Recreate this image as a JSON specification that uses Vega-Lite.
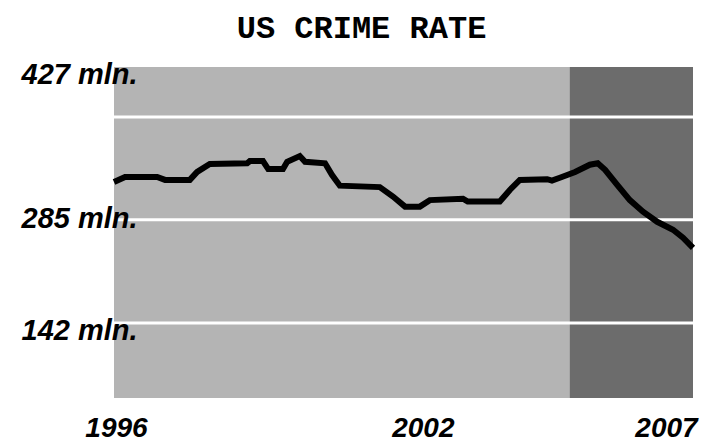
{
  "$schema": "https://vega.github.io/schema/vega-lite/v6.json",
  "width": 579,
  "height": 331,
  "autosize": {"type": "none"},
  "padding": {"left": 114, "top": 67, "right": 10, "bottom": 45},
  "background": "white",
  "title": {
    "text": "US CRIME RATE",
    "font": "Liberation Mono",
    "fontSize": 32,
    "fontWeight": "bold",
    "color": "black",
    "frame": "group",
    "anchor": "middle",
    "baseline": "alphabetic",
    "offset": 27,
    "dx": -42,
    "dy": 37
  },
  "datasets": {
    "series": [
      {"year": 1996.00, "value": 337},
      {"year": 1996.21, "value": 344},
      {"year": 1996.82, "value": 344},
      {"year": 1996.97, "value": 340},
      {"year": 1997.44, "value": 340},
      {"year": 1997.58, "value": 351},
      {"year": 1997.82, "value": 362},
      {"year": 1998.53, "value": 363},
      {"year": 1998.58, "value": 366},
      {"year": 1998.83, "value": 366},
      {"year": 1998.93, "value": 355},
      {"year": 1999.21, "value": 355},
      {"year": 1999.29, "value": 365},
      {"year": 1999.53, "value": 373},
      {"year": 1999.63, "value": 365},
      {"year": 2000.01, "value": 363},
      {"year": 2000.14, "value": 347},
      {"year": 2000.29, "value": 332},
      {"year": 2001.05, "value": 330},
      {"year": 2001.30, "value": 317},
      {"year": 2001.53, "value": 303},
      {"year": 2001.81, "value": 303},
      {"year": 2002.00, "value": 312},
      {"year": 2002.63, "value": 314},
      {"year": 2002.72, "value": 310},
      {"year": 2003.33, "value": 310},
      {"year": 2003.52, "value": 326},
      {"year": 2003.71, "value": 340},
      {"year": 2004.23, "value": 341},
      {"year": 2004.32, "value": 339},
      {"year": 2004.47, "value": 343},
      {"year": 2004.76, "value": 351},
      {"year": 2005.04, "value": 361},
      {"year": 2005.19, "value": 363},
      {"year": 2005.33, "value": 354},
      {"year": 2005.56, "value": 333},
      {"year": 2005.80, "value": 312},
      {"year": 2006.05, "value": 296},
      {"year": 2006.32, "value": 282},
      {"year": 2006.62, "value": 271},
      {"year": 2006.81, "value": 260},
      {"year": 2007.00, "value": 246}
    ],
    "period": [{"start": 2004.66, "end": 2007}],
    "grid": [{"v": 142}, {"v": 285}, {"v": 427}]
  },
  "layer": [
    {
      "data": {"name": "period"},
      "mark": {"type": "rect", "color": "#6c6c6c"},
      "encoding": {
        "x": {
          "field": "start", "type": "quantitative",
          "scale": {"domain": [1996, 2007], "nice": false, "zero": false},
          "axis": {
            "title": null, "domain": false, "ticks": false, "grid": false,
            "values": [1996, 2002, 2007], "format": "d",
            "labelFont": "Liberation Sans", "labelFontSize": 28,
            "labelFontWeight": "bold", "labelFontStyle": "italic",
            "labelColor": "black", "labelPadding": 16, "labelFlush": false,
            "labelBound": false, "labelOverlap": false,
            "labelOffset": {"condition": [{"test": "datum.value > 2006", "value": -27}, {"test": "datum.value > 2000", "value": -7}], "value": 2}
          }
        },
        "x2": {"field": "end"}
      }
    },
    {
      "data": {"name": "grid"},
      "mark": {"type": "rule", "color": "white", "strokeWidth": 3},
      "encoding": {
        "y": {
          "field": "v", "type": "quantitative",
          "scale": {"domain": [38.2, 496.2], "nice": false, "zero": false},
          "axis": {
            "title": null, "domain": false, "ticks": false, "grid": false,
            "values": [142, 285, 427], "labelExpr": "datum.value + ' mln.'",
            "labelFont": "Liberation Sans", "labelFontSize": 29,
            "labelFontWeight": "bold", "labelFontStyle": "italic",
            "labelColor": "black", "labelAlign": "left", "labelBaseline": "middle",
            "labelPadding": 93, "labelFlush": false, "labelBound": false, "labelOverlap": false,
            "zindex": 1,
            "labelOffset": {"condition": [{"test": "datum.value > 400", "value": -43}, {"test": "datum.value < 200", "value": 8}], "value": -1}
          }
        }
      }
    },
    {
      "data": {"name": "series"},
      "mark": {"type": "line", "color": "black", "strokeWidth": 6, "strokeJoin": "miter"},
      "encoding": {
        "x": {
          "field": "year", "type": "quantitative",
          "scale": {"domain": [1996, 2007], "nice": false, "zero": false},
          "axis": {
            "title": null, "domain": false, "ticks": false, "grid": false,
            "values": [1996, 2002, 2007], "format": "d",
            "labelFont": "Liberation Sans", "labelFontSize": 28,
            "labelFontWeight": "bold", "labelFontStyle": "italic",
            "labelColor": "black", "labelPadding": 16, "labelFlush": false,
            "labelBound": false, "labelOverlap": false,
            "labelOffset": {"condition": [{"test": "datum.value > 2006", "value": -27}, {"test": "datum.value > 2000", "value": -7}], "value": 2}
          }
        },
        "y": {
          "field": "value", "type": "quantitative",
          "scale": {"domain": [38.2, 496.2], "nice": false, "zero": false},
          "axis": {
            "title": null, "domain": false, "ticks": false, "grid": false,
            "values": [142, 285, 427], "labelExpr": "datum.value + ' mln.'",
            "labelFont": "Liberation Sans", "labelFontSize": 29,
            "labelFontWeight": "bold", "labelFontStyle": "italic",
            "labelColor": "black", "labelAlign": "left", "labelBaseline": "middle",
            "labelPadding": 93, "labelFlush": false, "labelBound": false, "labelOverlap": false,
            "zindex": 1,
            "labelOffset": {"condition": [{"test": "datum.value > 400", "value": -43}, {"test": "datum.value < 200", "value": 8}], "value": -1}
          }
        }
      }
    }
  ],
  "config": {
    "view": {"fill": "#b4b4b4", "stroke": null}
  }
}
